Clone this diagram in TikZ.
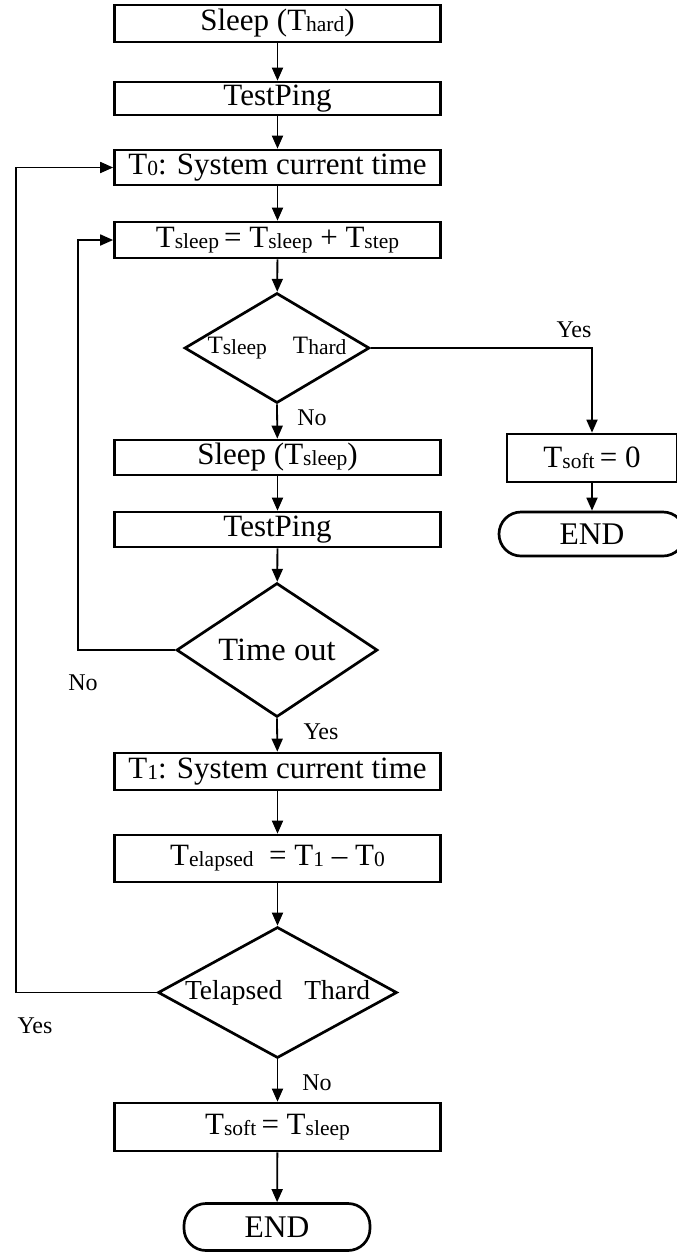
\documentclass[tikz,border=0pt]{standalone}
\usepackage{fontspec}
\setmainfont{Liberation Serif}
\usetikzlibrary{shapes.geometric,arrows.meta}
% lowered small index text, as in T_hard
\newcommand\lo[1]{\raisebox{-1pt}{\fontsize{21.5}{22}\selectfont #1}}
\begin{document}
\begin{tikzpicture}[x=1pt,y=-1pt,
  procbox/.style={draw, line width=2.7pt, rectangle, inner sep=0pt,
    minimum width=326pt, font=\fontsize{31}{36}\selectfont},
  decide/.style={draw, line width=2.7pt, diamond, inner sep=0pt},
  term/.style={draw, line width=2.7pt, rectangle, rounded corners=22pt,
    inner sep=0pt, minimum width=186pt, font=\fontsize{31.5}{36}\selectfont},
  flow/.style={line width=1.8pt, -{Triangle[width=11pt,length=13pt]}},
  lbl/.style={font=\fontsize{24}{28}\selectfont, inner sep=0pt}]
\useasboundingbox (0,0) rectangle (677,1254);

% main column
\node[procbox, minimum height=37pt] (b1) at (277.5,23.5) {Sleep (T\lo{hard})};
\node[procbox, minimum height=33pt] (b2) at (277.5,98.5) {TestPing};
\node[procbox, minimum height=35pt] (b3) at (277.5,167.5) {T\lo{0}: System current time};
\node[procbox, minimum height=36pt] (b4) at (277.5,240) {T\lo{sleep}\,= T\lo{sleep} + T\lo{step}};
\node[decide, minimum width=185pt, minimum height=110pt] (d1) at (277,348) {};
\node[font=\fontsize{25}{30}\selectfont] at (d1) {T\lo{sleep}\hspace{26pt}T\lo{hard}};
\node[procbox, minimum height=35pt] (b5) at (277.5,457.5) {Sleep (T\lo{sleep})};
\node[procbox, minimum height=35pt] (b6) at (277.5,529.5) {TestPing};
\node[decide, minimum width=201pt, minimum height=134pt] (d2) at (277,650) {};
\node[font=\fontsize{32.5}{36}\selectfont] at (d2) {Time out};
\node[procbox, minimum height=37pt] (b7) at (277.5,771.5) {T\lo{1}: System current time};
\node[procbox, minimum height=47pt] (b8) at (277.5,858.5) {T\lo{elapsed}\ \ = T\lo{1} -- T\lo{0}};
\node[decide, minimum width=239pt, minimum height=131pt] (d3) at (277.5,992.5) {};
\node[font=\fontsize{27.5}{32}\selectfont] at (d3) {Telapsed\hspace{22pt}Thard};
\node[procbox, minimum height=48pt] (b9) at (277.5,1127) {T\lo{soft}\,= T\lo{sleep}};
\node[term, minimum height=47pt] (e1) at (277,1227) {END};

% right column
\node[procbox, minimum width=170pt, minimum height=48pt] (r1) at (592,458) {T\lo{soft}\,= 0};
\node[term, minimum height=44pt] (e2) at (592,534) {END};

% connectors
\draw[flow] (b1) -- (b2);
\draw[flow] (b2) -- (b3);
\draw[flow] (b3) -- (b4);
\draw[flow] (b4) -- (d1);
\draw[flow] (d1.south) -- (b5);
\draw[flow] (d1.east) -| (r1.north);
\draw[flow] (r1) -- (e2);
\draw[flow] (b5) -- (b6);
\draw[flow] (b6) -- (d2);
\draw[flow] (d2.west) -- ++(-97,0) |- (b4.west);
\draw[flow] (d2.south) -- (b7);
\draw[flow] (b7) -- (b8);
\draw[flow] (b8) -- (d3);
\draw[flow] (d3.west) -- ++(-141,0) |- (b3.west);
\draw[flow] (d3.south) -- (b9);
\draw[flow] (b9) -- (e1);

% branch labels
\node[lbl] (l1) at (574,330) {Yes};
\node[lbl] (l2) at (312,418) {No};
\node[lbl] (l3) at (83,683) {No};
\node[lbl] (l4) at (321,732) {Yes};
\node[lbl] (l5) at (35,1026) {Yes};
\node[lbl] (l6) at (317,1083) {No};
\end{tikzpicture}
\end{document}
